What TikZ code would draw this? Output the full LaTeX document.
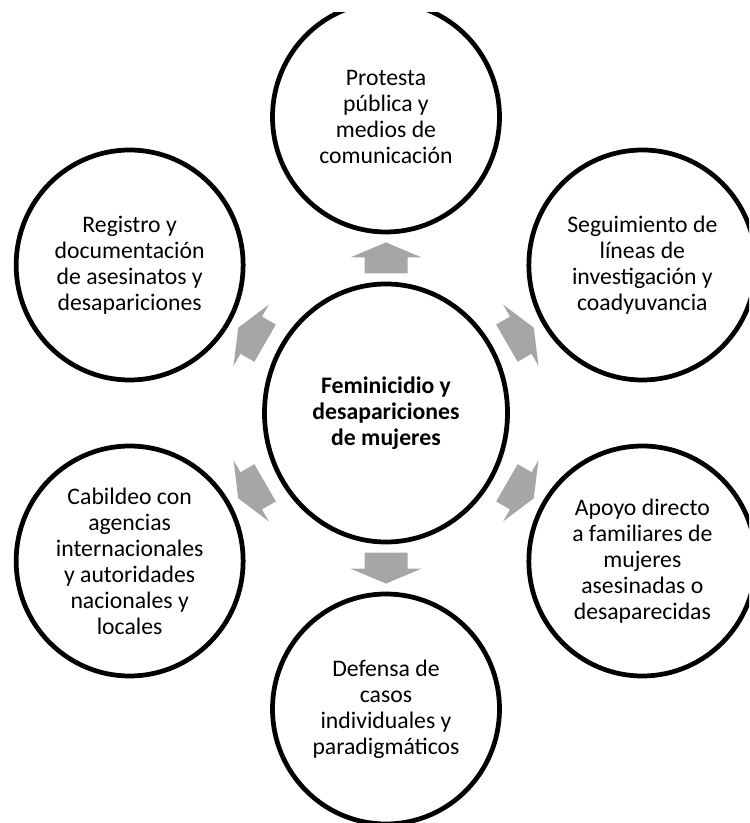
\documentclass[tikz,border=0pt]{standalone}
\usepackage{fontspec}
\setmainfont{Carlito}
\usepackage{xcolor}
\usepackage{tikz}
\usetikzlibrary{shapes.geometric, calc}
\definecolor{arrowgray}{RGB}{166,166,166}
\tikzset{
  topic/.style={ellipse, draw=black, fill=white, line width=2.7pt,
                minimum width=4.54cm, minimum height=4.6cm, inner sep=0pt,
                align=center, font=\fontsize{13.5}{14.8}\selectfont},
  core/.style={topic, minimum width=4.86cm, minimum height=5.16cm,
               font=\fontsize{13.5}{14.8}\selectfont\bfseries},
  outarrow/.pic={
    \fill[arrowgray] (-0.31,-0.43) -- (0.01,-0.43) -- (0.01,-0.71) -- (0.31,0)
      -- (0.01,0.71) -- (0.01,0.43) -- (-0.31,0.43) -- cycle;
  },
}

\begin{document}
\begin{tikzpicture}
  \useasboundingbox (-7.72,-8.2) rectangle (7.26,8.26);
  \begin{scope}
  \clip (-7.72,-8.2) rectangle (7.26,8.0);

  \node[core] (hub) at (0,0) {Feminicidio y\\desapariciones\\de mujeres};

  \node[topic] (pub) at (90:5.92) {Protesta\\pública y\\medios de\\comunicación};
  \node[topic] (seg) at (30:5.92) {Seguimiento de\\líneas de\\investigación y\\coadyuvancia};
  \node[topic] (apo) at (-30:5.92) {Apoyo directo\\a familiares de\\mujeres\\asesinadas o\\desaparecidas};
  \node[topic] (def) at (-90:5.92) {Defensa de\\casos\\individuales y\\paradigmáticos};
  \node[topic] (cab) at (-150:5.92) {Cabildeo con\\agencias\\internacionales\\y autoridades\\nacionales y\\locales};
  \node[topic] (reg) at (150:5.92) {Registro y\\documentación\\de asesinatos y\\desapariciones};

  \foreach \ang/\sat in {90/pub, 30/seg, -30/apo, -90/def, -150/cab, 150/reg}
    \pic[rotate=\ang] at ($(hub)!0.524!(\sat)$) {outarrow};
  \end{scope}
\end{tikzpicture}
\end{document}
